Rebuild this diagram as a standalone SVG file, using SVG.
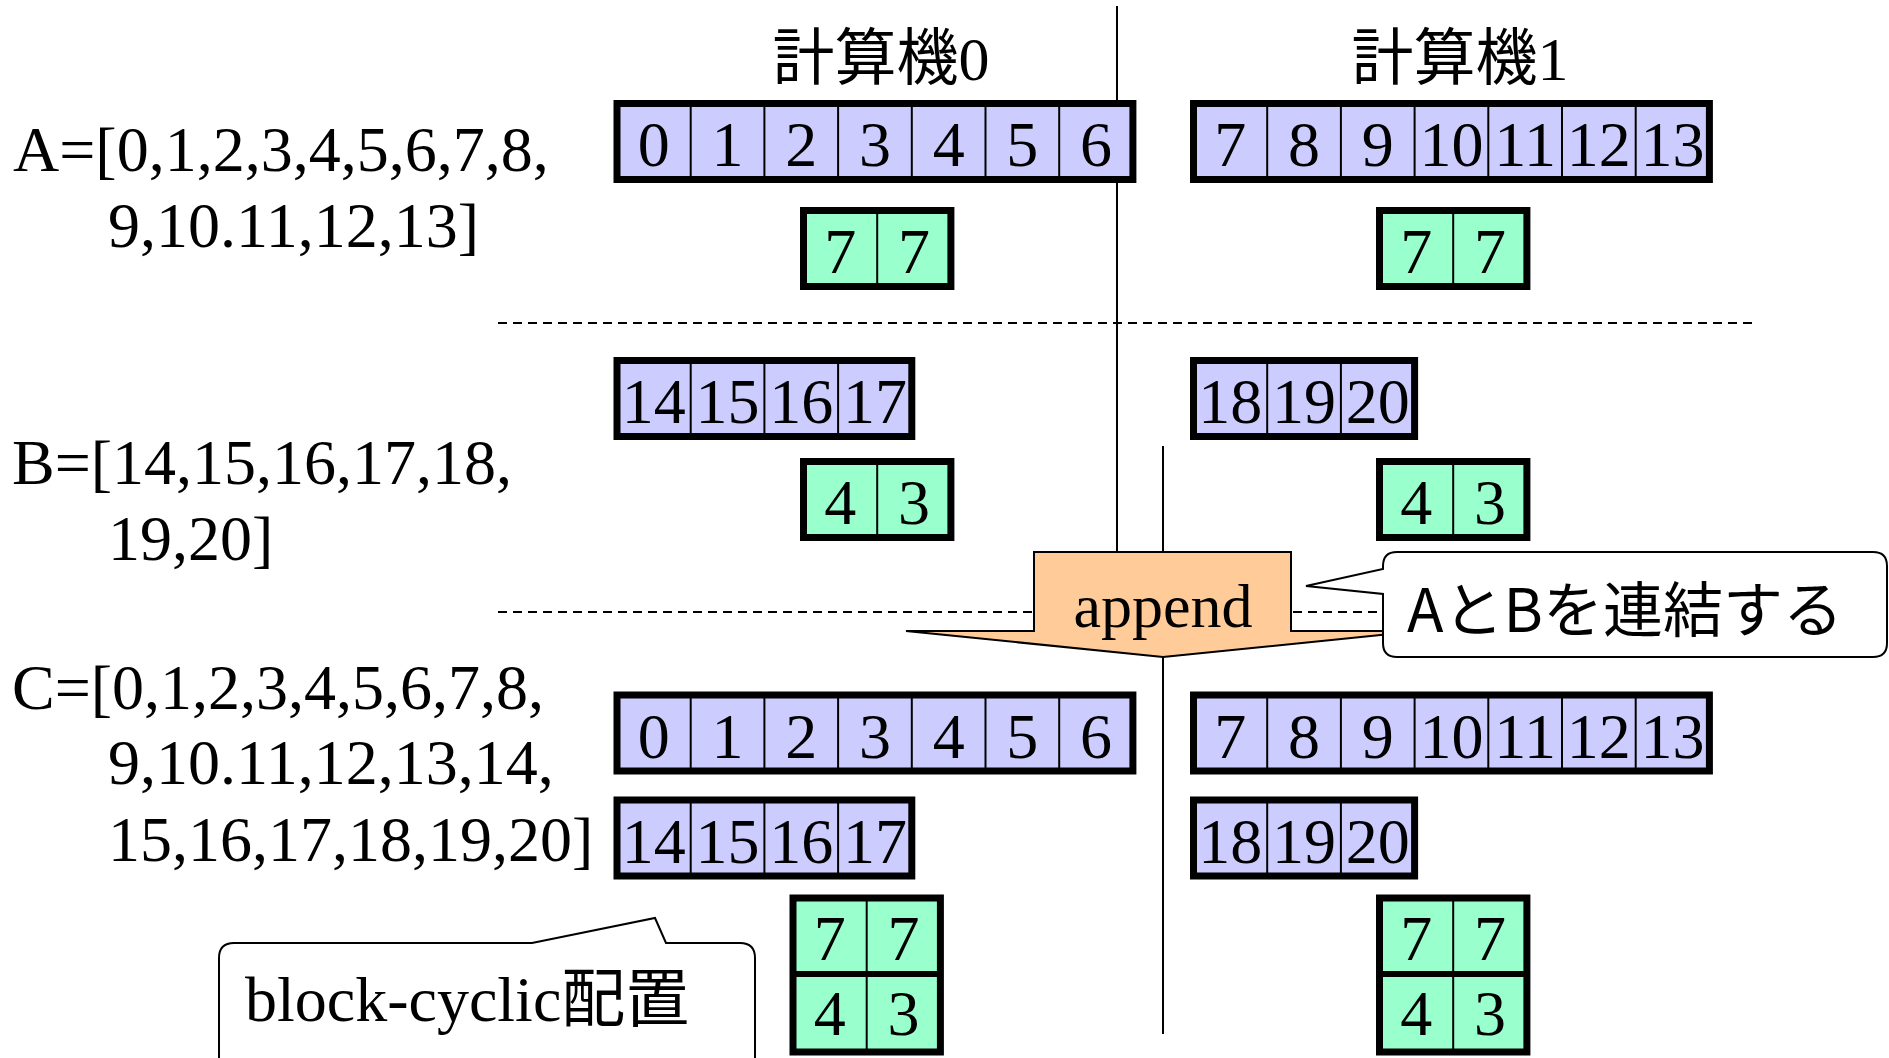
<svg xmlns="http://www.w3.org/2000/svg" width="1889" height="1058" viewBox="0 0 1889 1058">
<style>
.bg{fill:#ffffff}
.blue{fill:#CCCCFF;stroke:#000;stroke-width:7}
.green{fill:#99FFCC;stroke:#000;stroke-width:7}
.div{stroke:#000;stroke-width:2}
.num{font-family:"Liberation Serif","Times New Roman",serif;font-size:64px;fill:#000;text-anchor:middle}
.lbl{font-family:"Liberation Serif","Times New Roman",serif;font-size:64px;fill:#000}
.title{font-family:"Liberation Serif","Noto Sans CJK JP",serif;font-size:62px;fill:#000;text-anchor:middle}
.vline{stroke:#000;stroke-width:2;fill:none}
.dash{stroke:#000;stroke-width:2;stroke-dasharray:9 6;fill:none}
.call{fill:#fff;stroke:#000;stroke-width:2}
</style>
<rect class="bg" x="0" y="0" width="1889" height="1058"/>

<g id="connectors">
  <line class="vline" x1="1117" y1="6" x2="1117" y2="552"/>
  <line class="vline" x1="1163" y1="446" x2="1163" y2="1034"/>
  <line class="dash" x1="498" y1="323" x2="1753" y2="323"/>
  <line class="dash" x1="498" y1="612" x2="1383" y2="612"/>
</g>

<g id="labels">
  <text class="title" x="881" y="80">計算機0</text>
  <text class="title" x="1460" y="80">計算機1</text>
  <text class="lbl" x="13" y="171">A=[0,1,2,3,4,5,6,7,8,</text>
  <text class="lbl" x="108" y="247">9,10.11,12,13]</text>
  <text class="lbl" x="12" y="484">B=[14,15,16,17,18,</text>
  <text class="lbl" x="108" y="560">19,20]</text>
  <text class="lbl" x="12" y="709">C=[0,1,2,3,4,5,6,7,8,</text>
  <text class="lbl" x="108" y="784">9,10.11,12,13,14,</text>
  <text class="lbl" x="108" y="861">15,16,17,18,19,20]</text>
</g>

<g id="A0">
  <rect class="blue" x="617" y="103.5" width="515.9" height="76"/>
  <line class="div" x1="690.7" y1="103.5" x2="690.7" y2="179.5"/>
  <line class="div" x1="764.4" y1="103.5" x2="764.4" y2="179.5"/>
  <line class="div" x1="838.1" y1="103.5" x2="838.1" y2="179.5"/>
  <line class="div" x1="911.8" y1="103.5" x2="911.8" y2="179.5"/>
  <line class="div" x1="985.5" y1="103.5" x2="985.5" y2="179.5"/>
  <line class="div" x1="1059.2" y1="103.5" x2="1059.2" y2="179.5"/>
  <text class="num" x="653.85" y="166">0</text>
  <text class="num" x="727.55" y="166">1</text>
  <text class="num" x="801.25" y="166">2</text>
  <text class="num" x="874.95" y="166">3</text>
  <text class="num" x="948.65" y="166">4</text>
  <text class="num" x="1022.35" y="166">5</text>
  <text class="num" x="1096.05" y="166">6</text>
</g>
<g id="A1">
  <rect class="blue" x="1193.5" y="103.5" width="515.9" height="76"/>
  <line class="div" x1="1267.2" y1="103.5" x2="1267.2" y2="179.5"/>
  <line class="div" x1="1340.9" y1="103.5" x2="1340.9" y2="179.5"/>
  <line class="div" x1="1414.6" y1="103.5" x2="1414.6" y2="179.5"/>
  <line class="div" x1="1488.3" y1="103.5" x2="1488.3" y2="179.5"/>
  <line class="div" x1="1562" y1="103.5" x2="1562" y2="179.5"/>
  <line class="div" x1="1635.7" y1="103.5" x2="1635.7" y2="179.5"/>
  <text class="num" x="1230.35" y="166">7</text>
  <text class="num" x="1304.05" y="166">8</text>
  <text class="num" x="1377.75" y="166">9</text>
  <text class="num" x="1451.45" y="166">10</text>
  <text class="num" x="1525.15" y="166">11</text>
  <text class="num" x="1598.85" y="166">12</text>
  <text class="num" x="1672.55" y="166">13</text>
</g>
<g id="GA0">
  <rect class="green" x="803.5" y="210.5" width="147.4" height="76"/>
  <line class="div" x1="877.2" y1="210.5" x2="877.2" y2="286.5"/>
  <text class="num" x="840.35" y="273">7</text>
  <text class="num" x="914.05" y="273">7</text>
</g>
<g id="GA1">
  <rect class="green" x="1379.5" y="210.5" width="147.4" height="76"/>
  <line class="div" x1="1453.2" y1="210.5" x2="1453.2" y2="286.5"/>
  <text class="num" x="1416.35" y="273">7</text>
  <text class="num" x="1490.05" y="273">7</text>
</g>

<g id="B0">
  <rect class="blue" x="617" y="360.5" width="294.8" height="76"/>
  <line class="div" x1="690.7" y1="360.5" x2="690.7" y2="436.5"/>
  <line class="div" x1="764.4" y1="360.5" x2="764.4" y2="436.5"/>
  <line class="div" x1="838.1" y1="360.5" x2="838.1" y2="436.5"/>
  <text class="num" x="653.85" y="423">14</text>
  <text class="num" x="727.55" y="423">15</text>
  <text class="num" x="801.25" y="423">16</text>
  <text class="num" x="874.95" y="423">17</text>
</g>
<g id="B1">
  <rect class="blue" x="1193.5" y="360.5" width="221.1" height="76"/>
  <line class="div" x1="1267.2" y1="360.5" x2="1267.2" y2="436.5"/>
  <line class="div" x1="1340.9" y1="360.5" x2="1340.9" y2="436.5"/>
  <text class="num" x="1230.35" y="423">18</text>
  <text class="num" x="1304.05" y="423">19</text>
  <text class="num" x="1377.75" y="423">20</text>
</g>
<g id="GB0">
  <rect class="green" x="803.5" y="461.5" width="147.4" height="76"/>
  <line class="div" x1="877.2" y1="461.5" x2="877.2" y2="537.5"/>
  <text class="num" x="840.35" y="524">4</text>
  <text class="num" x="914.05" y="524">3</text>
</g>
<g id="GB1">
  <rect class="green" x="1379.5" y="461.5" width="147.4" height="76"/>
  <line class="div" x1="1453.2" y1="461.5" x2="1453.2" y2="537.5"/>
  <text class="num" x="1416.35" y="524">4</text>
  <text class="num" x="1490.05" y="524">3</text>
</g>

<g id="append">
  <polygon points="1034,552 1291,552 1291,631 1420,631 1163,657 906,631 1034,631" fill="#FFCC99" stroke="#000" stroke-width="2"/>
  <text x="1163" y="627" font-family="'Liberation Serif','Times New Roman',serif" font-size="62" text-anchor="middle">append</text>
</g>

<g id="callout-append">
  <path class="call" d="M1397,552 H1873 Q1887,552 1887,566 V643 Q1887,657 1873,657 H1397 Q1383,657 1383,643 V594 L1306,586 L1383,569 V566 Q1383,552 1397,552 Z"/>
  <text x="1407" y="632" font-family="'Noto Sans CJK JP','Noto Sans',sans-serif" font-size="60">AとBを連結する</text>
</g>

<g id="C0">
  <rect class="blue" x="617" y="695" width="515.9" height="76"/>
  <line class="div" x1="690.7" y1="695" x2="690.7" y2="771"/>
  <line class="div" x1="764.4" y1="695" x2="764.4" y2="771"/>
  <line class="div" x1="838.1" y1="695" x2="838.1" y2="771"/>
  <line class="div" x1="911.8" y1="695" x2="911.8" y2="771"/>
  <line class="div" x1="985.5" y1="695" x2="985.5" y2="771"/>
  <line class="div" x1="1059.2" y1="695" x2="1059.2" y2="771"/>
  <text class="num" x="653.85" y="757.5">0</text>
  <text class="num" x="727.55" y="757.5">1</text>
  <text class="num" x="801.25" y="757.5">2</text>
  <text class="num" x="874.95" y="757.5">3</text>
  <text class="num" x="948.65" y="757.5">4</text>
  <text class="num" x="1022.35" y="757.5">5</text>
  <text class="num" x="1096.05" y="757.5">6</text>
</g>
<g id="C1">
  <rect class="blue" x="1193.5" y="695" width="515.9" height="76"/>
  <line class="div" x1="1267.2" y1="695" x2="1267.2" y2="771"/>
  <line class="div" x1="1340.9" y1="695" x2="1340.9" y2="771"/>
  <line class="div" x1="1414.6" y1="695" x2="1414.6" y2="771"/>
  <line class="div" x1="1488.3" y1="695" x2="1488.3" y2="771"/>
  <line class="div" x1="1562" y1="695" x2="1562" y2="771"/>
  <line class="div" x1="1635.7" y1="695" x2="1635.7" y2="771"/>
  <text class="num" x="1230.35" y="757.5">7</text>
  <text class="num" x="1304.05" y="757.5">8</text>
  <text class="num" x="1377.75" y="757.5">9</text>
  <text class="num" x="1451.45" y="757.5">10</text>
  <text class="num" x="1525.15" y="757.5">11</text>
  <text class="num" x="1598.85" y="757.5">12</text>
  <text class="num" x="1672.55" y="757.5">13</text>
</g>
<g id="C0b">
  <rect class="blue" x="617" y="800" width="294.8" height="76"/>
  <line class="div" x1="690.7" y1="800" x2="690.7" y2="876"/>
  <line class="div" x1="764.4" y1="800" x2="764.4" y2="876"/>
  <line class="div" x1="838.1" y1="800" x2="838.1" y2="876"/>
  <text class="num" x="653.85" y="862.5">14</text>
  <text class="num" x="727.55" y="862.5">15</text>
  <text class="num" x="801.25" y="862.5">16</text>
  <text class="num" x="874.95" y="862.5">17</text>
</g>
<g id="C1b">
  <rect class="blue" x="1193.5" y="800" width="221.1" height="76"/>
  <line class="div" x1="1267.2" y1="800" x2="1267.2" y2="876"/>
  <line class="div" x1="1340.9" y1="800" x2="1340.9" y2="876"/>
  <text class="num" x="1230.35" y="862.5">18</text>
  <text class="num" x="1304.05" y="862.5">19</text>
  <text class="num" x="1377.75" y="862.5">20</text>
</g>
<g id="GC0">
  <rect class="green" x="793" y="898" width="147.4" height="154"/>
  <line class="div" x1="866.7" y1="898" x2="866.7" y2="1052"/>
  <line x1="793" y1="974" x2="940.4" y2="974" stroke="#000" stroke-width="6"/>
  <text class="num" x="829.85" y="960">7</text>
  <text class="num" x="903.55" y="960">7</text>
  <text class="num" x="829.85" y="1035">4</text>
  <text class="num" x="903.55" y="1035">3</text>
</g>
<g id="GC1">
  <rect class="green" x="1379.5" y="898" width="147.4" height="154"/>
  <line class="div" x1="1453.2" y1="898" x2="1453.2" y2="1052"/>
  <line x1="1379.5" y1="974" x2="1526.9" y2="974" stroke="#000" stroke-width="6"/>
  <text class="num" x="1416.35" y="960">7</text>
  <text class="num" x="1490.05" y="960">7</text>
  <text class="num" x="1416.35" y="1035">4</text>
  <text class="num" x="1490.05" y="1035">3</text>
</g>

<g id="callout-block">
  <path class="call" d="M219,1070 V958 Q219,943 234,943 H532 L655,918 L666,943 H740 Q755,943 755,958 V1070"/>
  <text x="245" y="1021" font-family="'Liberation Serif','Noto Sans CJK JP',serif" font-size="64">block-cyclic配置</text>
</g>
</svg>
